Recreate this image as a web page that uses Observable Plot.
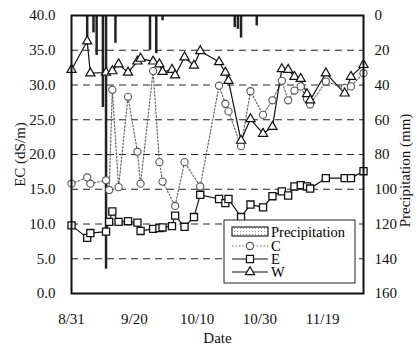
<!DOCTYPE html>
<html><head><meta charset="utf-8">
<script src="https://cdn.jsdelivr.net/npm/d3@7"></script>
<script src="https://cdn.jsdelivr.net/npm/@observablehq/plot@0.6"></script>
<style>
body{margin:0;background:#fff;}
#wrap{position:relative;width:420px;height:353px;}
#wrap svg.overlay{position:absolute;left:0;top:0;pointer-events:none;}
</style></head><body><div id="wrap"></div>
<script>
const year = 2001;
const sampleDates = ["8/31","9/5","9/6","9/11","9/12","9/13","9/15","9/18","9/21","9/22","9/26","9/28","9/29","10/2","10/3","10/6","10/9","10/11","10/17","10/19","10/20","10/24","10/27","10/31","11/3","11/6","11/8","11/10","11/12","11/14","11/15","11/20","11/26","11/28","12/2"];
const cValues = [15.8,16.7,15.8,16.3,14.9,29.3,15.3,28.3,20.4,15.8,32.0,18.9,16.1,null,12.6,18.9,null,15.4,29.9,27.3,26.2,21.2,29.1,25.7,27.8,30.6,27.8,29.2,29.8,28.0,27.2,30.5,29.6,29.8,31.7];
const eValues = [9.8,8.0,8.7,8.9,10.3,11.8,10.3,10.4,10.2,9.0,9.3,9.4,9.5,9.7,11.2,9.6,11.0,14.2,13.6,13.0,13.6,11.0,12.8,12.4,14.0,14.7,14.1,15.4,15.6,15.4,15.1,16.6,16.6,16.6,17.6];
const wValues = [32.2,36.3,31.7,31.8,null,32.0,33.0,31.8,33.4,33.8,33.4,33.0,31.9,32.2,31.4,34.0,32.8,34.9,33.3,31.8,30.6,22.0,25.1,23.0,24.0,32.3,32.2,31.2,30.9,28.7,27.8,31.7,28.8,31.2,32.9];
const rainDates = ["9/5","9/7","9/8","9/10","9/11","9/14","9/25","9/27","9/29","10/22","10/23","10/24","10/29"];
const rainValues = [17,10,23,53,146,16,20,22,3,7,8,13,6];
const xTickLabels = ["8/31","9/20","10/10","10/30","11/19"];
const ecTicks = [0,5,10,15,20,25,30,35,40];
const rainTicks = [0,20,40,60,80,100,120,140,160];
const seriesNames = ["C","E","W"];
const rainName = "Precipitation";

const parse = s => d3.utcParse("%Y/%m/%d")(year + "/" + s);
const EC_MAX = 40, RAIN_MAX = 160;
const rainToEc = p => EC_MAX - p * EC_MAX / RAIN_MAX;
const rows = values => sampleDates.map((d,i)=>({date: parse(d), v: values[i]})).filter(r => r.v != null);
const C = rows(cValues), E = rows(eValues), W = rows(wValues);
const rain = rainDates.map((d,i)=>({date: parse(d), y1: EC_MAX, y2: rainToEc(rainValues[i])}));

const chart = Plot.plot({
  width: 420, height: 353,
  marginLeft: 71, marginRight: 57, marginTop: 15, marginBottom: 60,
  style: {fontFamily: "'Liberation Serif', serif", fontSize: "15px", color: "#111", background: "#fff"},
  x: {type: "utc", domain: [parse("8/31"), parse("12/2")]},
  y: {domain: [0, 40]},
  marks: [
    Plot.ruleY(ecTicks.slice(1,-1), {stroke: "#222", strokeDasharray: "7,5", strokeWidth: 1}),
    Plot.ruleX(rain, {x: "date", y1: "y1", y2: "y2", stroke: "#222", strokeWidth: 2.5}),
    Plot.line(C, {x:"date", y:"v", stroke:"#666", strokeDasharray:"1.5,2", strokeWidth: 1.2}),
    Plot.line(E, {x:"date", y:"v", stroke:"#111", strokeWidth: 1.2}),
    Plot.line(W, {x:"date", y:"v", stroke:"#111", strokeWidth: 1.2}),
    Plot.dot(C, {x:"date", y:"v", symbol:"circle", r:3.6, fill:"white", stroke:"#555", strokeWidth: 1.1}),
    Plot.dot(E, {x:"date", y:"v", symbol:"square", r:4.0, fill:"white", stroke:"#111", strokeWidth: 1.3}),
    Plot.dot(W, {x:"date", y:"v", symbol:"triangle", r:3.4, fill:"white", stroke:"#111", strokeWidth: 1.2}),
    Plot.frame({stroke:"#111", strokeWidth: 2}),
    Plot.axisY({ticks: ecTicks, tickFormat: d3.format(".1f"), tickSize: 0, tickPadding: 16, label: null}),
    Plot.axisY({anchor: "right", ticks: rainTicks.map(rainToEc), tickFormat: d => String(Math.round((EC_MAX - d) * RAIN_MAX / EC_MAX)), tickSize: 0, tickPadding: 11, label: null}),
    Plot.axisX({ticks: xTickLabels.map(parse), tickFormat: d3.utcFormat("%-m/%-d"), tickSize: 0, tickPadding: 20, label: null}),
    Plot.text(["EC (dS/m)"], {text: d => d, frameAnchor: "left", textAnchor: "middle", dx: -51, rotate: -90}),
    Plot.text(["Precipitation (mm)"], {text: d => d, frameAnchor: "right", textAnchor: "middle", dx: 42, dy: 16, rotate: -90}),
    Plot.text(["Date"], {text: d => d, frameAnchor: "bottom", dy: 49})
  ]
});
const wrap = document.getElementById("wrap");
wrap.appendChild(chart);

// legend overlay
const lg = d3.select(wrap).append("svg").attr("class","overlay").attr("width",420).attr("height",353)
  .style("font-family","'Liberation Serif', serif").style("font-size","14.5px");
lg.append("rect").attr("x",224).attr("y",220).attr("width",131).attr("height",63).attr("fill","#fff").attr("stroke","#222").attr("stroke-width",1);
const pat = lg.append("defs").append("pattern").attr("id","dots").attr("width",3).attr("height",3).attr("patternUnits","userSpaceOnUse");
pat.append("rect").attr("width",3).attr("height",3).attr("fill","#fff");
pat.append("rect").attr("width",1).attr("height",1).attr("fill","#999");
lg.append("rect").attr("x",232).attr("y",227).attr("width",36).attr("height",9).attr("fill","url(#dots)").attr("stroke","#222").attr("stroke-width",1.2);
lg.append("text").attr("x",271).attr("y",237).text(rainName);
const styles = {C:{stroke:"#666",dash:"1.5,2",sym:d3.symbolCircle,size:Math.PI*3.6*3.6,ms:"#555"},
                E:{stroke:"#111",dash:null,sym:d3.symbolSquare,size:Math.PI*16,ms:"#111"},
                W:{stroke:"#111",dash:null,sym:d3.symbolTriangle,size:Math.PI*3.4*3.4,ms:"#111"}};
seriesNames.forEach((n,i)=>{
  const y = 246 + i*13;
  const s = styles[n];
  lg.append("line").attr("x1",232).attr("x2",268).attr("y1",y).attr("y2",y).attr("stroke",s.stroke).attr("stroke-width",1.2).attr("stroke-dasharray",s.dash);
  lg.append("path").attr("d",d3.symbol(s.sym,s.size)()).attr("transform",`translate(250,${y})`).attr("fill","#fff").attr("stroke",s.ms).attr("stroke-width",1.2);
  lg.append("text").attr("x",271).attr("y",y+5).text(n);
});
</script></body></html>
